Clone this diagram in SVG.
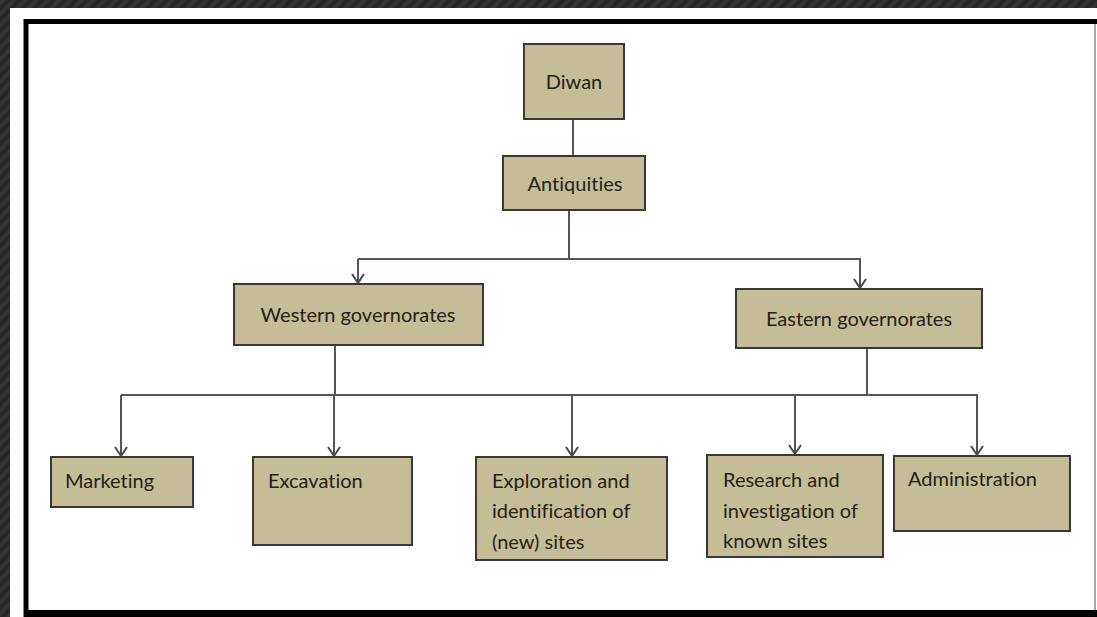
<svg xmlns="http://www.w3.org/2000/svg" width="1097" height="617" viewBox="0 0 1097 617">
  <defs>
    <pattern id="stripes" width="8" height="8" patternUnits="userSpaceOnUse" patternTransform="rotate(45)">
      <rect width="8" height="8" fill="#262626"/>
      <rect width="4" height="8" fill="#333333"/>
    </pattern>
    <marker id="arr" markerWidth="12" markerHeight="14" refX="10" refY="7" orient="auto" markerUnits="userSpaceOnUse" viewBox="0 0 12 14">
      <path d="M1,1 L10,7 L1,13" fill="none" stroke="#4a4a4a" stroke-width="2"/>
    </marker>
  </defs>
  <style>
    .box { fill: #c4bd97; stroke: #3a3a32; stroke-width: 2; }
    .t { font-family: Lato, "Liberation Sans", sans-serif; font-size: 20px; fill: #25221a; font-variant-ligatures: none; }
    .c { text-anchor: middle; }
    .ln { fill: none; stroke: #555555; stroke-width: 2; }
  </style>
  <rect x="0" y="0" width="1097" height="617" fill="url(#stripes)"/>
  <rect x="10" y="8" width="1087" height="609" fill="#ffffff"/>
  <path d="M26,617 L26,21.5 L1097,21.5" fill="none" stroke="#000000" stroke-width="5"/>
  <rect x="26" y="610" width="1071" height="7" fill="#000000"/>
  <line x1="1095" y1="24" x2="1095" y2="610" stroke="#888888" stroke-width="1.5"/>

  <g id="connectors">
    <line class="ln" x1="573" y1="119" x2="573" y2="156"/>
    <line class="ln" x1="569" y1="210" x2="569" y2="259"/>
    <polyline class="ln" points="358,259 860,259 860,288" marker-end="url(#arr)"/>
    <line class="ln" x1="358" y1="259" x2="358" y2="283" marker-end="url(#arr)"/>
    <line class="ln" x1="335" y1="345" x2="335" y2="395"/>
    <line class="ln" x1="867" y1="348" x2="867" y2="395"/>
    <polyline class="ln" points="121,395 977,395 977,455" marker-end="url(#arr)"/>
    <line class="ln" x1="121" y1="395" x2="121" y2="456" marker-end="url(#arr)"/>
    <line class="ln" x1="334" y1="395" x2="334" y2="456" marker-end="url(#arr)"/>
    <line class="ln" x1="572" y1="395" x2="572" y2="456" marker-end="url(#arr)"/>
    <line class="ln" x1="795" y1="395" x2="795" y2="454" marker-end="url(#arr)"/>
  </g>

  <g id="diwan">
    <rect class="box" x="524" y="44" width="100" height="75"/>
    <text class="t c" x="574" y="89">Diwan</text>
  </g>
  <g id="antiquities">
    <rect class="box" x="503" y="156" width="142" height="54"/>
    <text class="t c" x="575" y="191">Antiquities</text>
  </g>
  <g id="western">
    <rect class="box" x="234" y="284" width="249" height="61"/>
    <text class="t c" x="358" y="322">Western governorates</text>
  </g>
  <g id="eastern">
    <rect class="box" x="736" y="289" width="246" height="59"/>
    <text class="t c" x="859" y="326">Eastern governorates</text>
  </g>
  <g id="marketing">
    <rect class="box" x="51" y="457" width="142" height="50"/>
    <text class="t" x="65" y="488">Marketing</text>
  </g>
  <g id="excavation">
    <rect class="box" x="253" y="457" width="159" height="88"/>
    <text class="t" x="268" y="488">Excavation</text>
  </g>
  <g id="exploration">
    <rect class="box" x="476" y="457" width="191" height="103"/>
    <text class="t" x="492" y="488">Exploration and</text>
    <text class="t" x="492" y="518">identification of</text>
    <text class="t" x="492" y="549">(new) sites</text>
  </g>
  <g id="research">
    <rect class="box" x="707" y="455" width="176" height="102"/>
    <text class="t" x="723" y="487">Research and</text>
    <text class="t" x="723" y="518">investigation of</text>
    <text class="t" x="723" y="548">known sites</text>
  </g>
  <g id="administration">
    <rect class="box" x="894" y="456" width="176" height="75"/>
    <text class="t" x="908" y="486">Administration</text>
  </g>
</svg>
